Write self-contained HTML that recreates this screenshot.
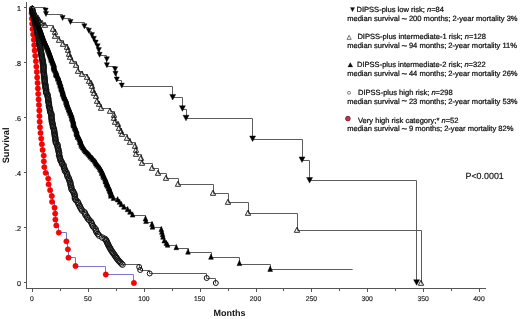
<!DOCTYPE html>
<html><head><meta charset="utf-8"><title>Survival</title>
<style>html,body{margin:0;padding:0;background:#fff;width:520px;height:319px;overflow:hidden}svg{display:block;will-change:transform;text-rendering:geometricPrecision}</style>
</head><body>
<svg width="520" height="319" viewBox="0 0 520 319">
<rect width="520" height="319" fill="#fff"/>
<g>
<g stroke="#555" stroke-width="1" fill="none" shape-rendering="crispEdges">
<path d="M26.5 2 V288.5 H486"/>
<path d="M23.5 282.5 H26.5"/>
<path d="M23.5 227.5 H26.5"/>
<path d="M23.5 172.5 H26.5"/>
<path d="M23.5 117.5 H26.5"/>
<path d="M23.5 62.5 H26.5"/>
<path d="M23.5 7.5 H26.5"/>
<path d="M32.5 289 V292.0"/>
<path d="M60.5 289 V291.0"/>
<path d="M88.5 289 V292.0"/>
<path d="M116.5 289 V291.0"/>
<path d="M144.5 289 V292.0"/>
<path d="M172.5 289 V291.0"/>
<path d="M200.5 289 V292.0"/>
<path d="M228.5 289 V291.0"/>
<path d="M256.5 289 V292.0"/>
<path d="M283.5 289 V291.0"/>
<path d="M311.5 289 V292.0"/>
<path d="M339.5 289 V291.0"/>
<path d="M367.5 289 V292.0"/>
<path d="M395.5 289 V291.0"/>
<path d="M423.5 289 V292.0"/>
<path d="M451.5 289 V291.0"/>
<path d="M479.5 289 V292.0"/>
</g>
<path fill="none" stroke="#7878d0" stroke-width="1" d="M32.00 7.50 H31.50 V13.50 H31.50 V18.50 H32.50 V23.50 H32.50 V29.50 H33.50 V34.50 H33.50 V39.50 H34.50 V45.50 H34.50 V50.50 H35.50 V55.50 H35.50 V61.50 H36.50 V66.50 H36.50 V72.50 H37.50 V77.50 H37.50 V82.50 H37.50 V88.50 H38.50 V93.50 H38.50 V99.50 H38.50 V104.50 H39.50 V110.50 H39.50 V116.50 H39.50 V121.50 H40.50 V127.50 H40.50 V132.50 H41.50 V138.50 H41.50 V144.50 H42.50 V149.50 H43.50 V155.50 H43.50 V161.50 H44.50 V167.50 H45.50 V172.50 H48.50 V178.50 H48.50 V184.50 H50.50 V190.50 H51.50 V196.50 H52.50 V201.50 H54.50 V207.50 H55.50 V213.50 H55.50 V219.50 H56.50 V225.50 H58.50 V232.50 H66.50 V241.50 H67.50 V249.50 H68.50 V257.50 H75.50 V266.50 H105.50 V274.50 H133.50 V283.50"/>
<g fill="#ff0000" stroke="#d80000" stroke-width="0.5">
<circle cx="31.61" cy="13.30" r="2.65"/>
<circle cx="31.84" cy="18.55" r="2.65"/>
<circle cx="32.17" cy="23.82" r="2.65"/>
<circle cx="32.54" cy="29.10" r="2.65"/>
<circle cx="33.17" cy="34.41" r="2.65"/>
<circle cx="33.86" cy="39.73" r="2.65"/>
<circle cx="34.25" cy="45.07" r="2.65"/>
<circle cx="34.65" cy="50.42" r="2.65"/>
<circle cx="35.30" cy="55.79" r="2.65"/>
<circle cx="35.91" cy="61.18" r="2.65"/>
<circle cx="36.39" cy="66.59" r="2.65"/>
<circle cx="36.84" cy="72.02" r="2.65"/>
<circle cx="37.22" cy="77.46" r="2.65"/>
<circle cx="37.58" cy="82.93" r="2.65"/>
<circle cx="37.90" cy="88.40" r="2.65"/>
<circle cx="38.23" cy="93.90" r="2.65"/>
<circle cx="38.57" cy="99.42" r="2.65"/>
<circle cx="38.95" cy="104.95" r="2.65"/>
<circle cx="39.32" cy="110.50" r="2.65"/>
<circle cx="39.48" cy="116.08" r="2.65"/>
<circle cx="39.70" cy="121.66" r="2.65"/>
<circle cx="40.04" cy="127.27" r="2.65"/>
<circle cx="40.55" cy="132.90" r="2.65"/>
<circle cx="41.22" cy="138.54" r="2.65"/>
<circle cx="41.90" cy="144.20" r="2.65"/>
<circle cx="42.59" cy="149.88" r="2.65"/>
<circle cx="43.71" cy="155.58" r="2.65"/>
<circle cx="43.82" cy="161.30" r="2.65"/>
<circle cx="44.31" cy="167.04" r="2.65"/>
<circle cx="45.69" cy="172.80" r="2.65"/>
<circle cx="48.23" cy="178.57" r="2.65"/>
<circle cx="48.59" cy="184.37" r="2.65"/>
<circle cx="50.14" cy="190.18" r="2.65"/>
<circle cx="51.80" cy="196.01" r="2.65"/>
<circle cx="52.06" cy="201.86" r="2.65"/>
<circle cx="54.56" cy="207.73" r="2.65"/>
<circle cx="55.20" cy="213.62" r="2.65"/>
<circle cx="55.39" cy="219.53" r="2.65"/>
<circle cx="56.31" cy="225.46" r="2.65"/>
<circle cx="58.80" cy="232.60" r="2.65"/>
<circle cx="66.40" cy="241.30" r="2.65"/>
<circle cx="67.90" cy="249.30" r="2.65"/>
<circle cx="68.50" cy="257.70" r="2.65"/>
<circle cx="75.50" cy="266.00" r="2.65"/>
<circle cx="105.80" cy="274.50" r="2.65"/>
<circle cx="133.90" cy="283.00" r="2.65"/>
</g>
<path fill="none" stroke="#5c5c5c" stroke-width="1" d="M32.00 7.50 H32.50 V8.50 H32.50 V9.50 H32.50 V10.50 H32.50 V11.50 H32.50 V12.50 H33.50 V13.50 H33.50 V14.50 H33.50 V15.50 H33.50 V16.50 H34.50 V18.50 H34.50 V19.50 H34.50 V20.50 H34.50 V21.50 H35.50 V22.50 H35.50 V23.50 H35.50 V24.50 H35.50 V25.50 H36.50 V26.50 H36.50 V27.50 H36.50 V28.50 H36.50 V29.50 H37.50 V30.50 H37.50 V31.50 H37.50 V32.50 H37.50 V33.50 H37.50 V34.50 H38.50 V35.50 H38.50 V36.50 H38.50 V37.50 H38.50 V39.50 H38.50 V40.50 H39.50 V41.50 H39.50 V42.50 H39.50 V43.50 H39.50 V44.50 H39.50 V45.50 H40.50 V46.50 H40.50 V47.50 H40.50 V48.50 H40.50 V49.50 H40.50 V51.50 H40.50 V52.50 H41.50 V53.50 H41.50 V54.50 H41.50 V55.50 H41.50 V56.50 H42.50 V57.50 H42.50 V58.50 H42.50 V60.50 H42.50 V61.50 H42.50 V62.50 H42.50 V63.50 H43.50 V64.50 H43.50 V65.50 H43.50 V66.50 H43.50 V68.50 H43.50 V69.50 H43.50 V70.50 H43.50 V71.50 H43.50 V72.50 H44.50 V73.50 H44.50 V75.50 H44.50 V76.50 H44.50 V77.50 H44.50 V78.50 H44.50 V79.50 H44.50 V80.50 H44.50 V82.50 H44.50 V83.50 H45.50 V84.50 H45.50 V85.50 H45.50 V86.50 H45.50 V88.50 H46.50 V89.50 H46.50 V90.50 H46.50 V91.50 H46.50 V93.50 H47.50 V94.50 H47.50 V95.50 H47.50 V96.50 H48.50 V97.50 H48.50 V99.50 H48.50 V100.50 H48.50 V101.50 H48.50 V102.50 H48.50 V104.50 H48.50 V105.50 H49.50 V106.50 H49.50 V107.50 H49.50 V109.50 H49.50 V110.50 H50.50 V111.50 H50.50 V112.50 H51.50 V114.50 H51.50 V115.50 H51.50 V116.50 H51.50 V118.50 H51.50 V119.50 H51.50 V120.50 H51.50 V121.50 H52.50 V123.50 H52.50 V124.50 H52.50 V125.50 H53.50 V127.50 H53.50 V128.50 H54.50 V129.50 H54.50 V131.50 H54.50 V132.50 H54.50 V133.50 H54.50 V135.50 H54.50 V136.50 H55.50 V137.50 H55.50 V139.50 H55.50 V140.50 H55.50 V141.50 H56.50 V143.50 H57.50 V144.50 H57.50 V145.50 H57.50 V147.50 H58.50 V148.50 H58.50 V149.50 H58.50 V151.50 H59.50 V152.50 H59.50 V154.50 H59.50 V155.50 H59.50 V156.50 H60.50 V158.50 H60.50 V159.50 H60.50 V160.50 H61.50 V162.50 H62.50 V163.50 H63.50 V165.50 H63.50 V166.50 H64.50 V168.50 H64.50 V169.50 H64.50 V170.50 H66.50 V172.50 H66.50 V173.50 H67.50 V175.50 H67.50 V176.50 H68.50 V178.50 H69.50 V179.50 H69.50 V180.50 H70.50 V182.50 H70.50 V183.50 H70.50 V185.50 H71.50 V186.50 H71.50 V188.50 H71.50 V189.50 H73.50 V191.50 H73.50 V192.50 H74.50 V194.50 H74.50 V195.50 H74.50 V197.50 H74.50 V198.50 H75.50 V200.50 H77.50 V201.50 H78.50 V203.50 H78.50 V204.50 H79.50 V206.50 H80.50 V207.50 H81.50 V209.50 H82.50 V210.50 H84.50 V212.50 H85.50 V213.50 H85.50 V215.50 H87.50 V216.50 H87.50 V218.50 H89.50 V219.50 H90.50 V221.50 H91.50 V223.50 H92.50 V224.50 H92.50 V226.50 H94.50 V227.50 H95.50 V229.50 H96.50 V230.50 H96.50 V232.50 H97.50 V234.50 H99.50 V235.50 H102.50 V237.50 H104.50 V238.50 H106.50 V240.50 H106.50 V241.50 H107.50 V242.50 H107.50 V244.50 H108.50 V245.50 H109.50 V246.50 H109.50 V247.50 H110.50 V249.50 H111.50 V250.50 H112.50 V251.50 H113.50 V253.50 H114.50 V254.50 H114.50 V255.50 H115.50 V257.50 H116.50 V258.50 H117.50 V259.50 H118.50 V260.50 H120.50 V262.50 H121.50 V263.50 H122.50 V264.50 H139.50 V267.50 H140.50 V270.50 H149.50 V273.50 H206.50 V278.50 H215.50 V283.50"/>
<g fill="none" stroke="#111" stroke-width="1">
<circle cx="32.13" cy="8.90" r="2.80"/>
<circle cx="32.29" cy="9.90" r="2.80"/>
<circle cx="32.44" cy="10.91" r="2.80"/>
<circle cx="32.59" cy="11.91" r="2.80"/>
<circle cx="32.83" cy="12.93" r="2.80"/>
<circle cx="33.08" cy="13.94" r="2.80"/>
<circle cx="33.34" cy="14.95" r="2.80"/>
<circle cx="33.59" cy="15.97" r="2.80"/>
<circle cx="33.85" cy="16.99" r="2.80"/>
<circle cx="34.10" cy="18.02" r="2.80"/>
<circle cx="34.36" cy="19.04" r="2.80"/>
<circle cx="34.62" cy="20.07" r="2.80"/>
<circle cx="34.86" cy="21.10" r="2.80"/>
<circle cx="35.11" cy="22.14" r="2.80"/>
<circle cx="35.36" cy="23.17" r="2.80"/>
<circle cx="35.61" cy="24.21" r="2.80"/>
<circle cx="35.86" cy="25.26" r="2.80"/>
<circle cx="36.11" cy="26.30" r="2.80"/>
<circle cx="36.36" cy="27.35" r="2.80"/>
<circle cx="36.62" cy="28.40" r="2.80"/>
<circle cx="36.87" cy="29.45" r="2.80"/>
<circle cx="37.09" cy="30.51" r="2.80"/>
<circle cx="37.28" cy="31.57" r="2.80"/>
<circle cx="37.47" cy="32.63" r="2.80"/>
<circle cx="37.66" cy="33.69" r="2.80"/>
<circle cx="37.86" cy="34.76" r="2.80"/>
<circle cx="38.05" cy="35.83" r="2.80"/>
<circle cx="38.24" cy="36.90" r="2.80"/>
<circle cx="38.44" cy="37.98" r="2.80"/>
<circle cx="38.63" cy="39.06" r="2.80"/>
<circle cx="38.82" cy="40.14" r="2.80"/>
<circle cx="39.02" cy="41.22" r="2.80"/>
<circle cx="39.22" cy="42.31" r="2.80"/>
<circle cx="39.41" cy="43.40" r="2.80"/>
<circle cx="39.61" cy="44.49" r="2.80"/>
<circle cx="39.81" cy="45.58" r="2.80"/>
<circle cx="40.00" cy="46.68" r="2.80"/>
<circle cx="40.20" cy="47.78" r="2.80"/>
<circle cx="40.40" cy="48.89" r="2.80"/>
<circle cx="40.60" cy="49.99" r="2.80"/>
<circle cx="40.80" cy="51.10" r="2.80"/>
<circle cx="41.00" cy="52.21" r="2.80"/>
<circle cx="41.20" cy="53.33" r="2.80"/>
<circle cx="41.40" cy="54.45" r="2.80"/>
<circle cx="41.60" cy="55.57" r="2.80"/>
<circle cx="41.80" cy="56.69" r="2.80"/>
<circle cx="42.01" cy="57.82" r="2.80"/>
<circle cx="42.21" cy="58.95" r="2.80"/>
<circle cx="42.48" cy="60.08" r="2.80"/>
<circle cx="42.80" cy="61.22" r="2.80"/>
<circle cx="42.80" cy="62.36" r="2.80"/>
<circle cx="42.80" cy="63.50" r="2.80"/>
<circle cx="43.37" cy="64.65" r="2.80"/>
<circle cx="43.48" cy="65.79" r="2.80"/>
<circle cx="43.48" cy="66.94" r="2.80"/>
<circle cx="43.48" cy="68.10" r="2.80"/>
<circle cx="43.48" cy="69.25" r="2.80"/>
<circle cx="43.48" cy="70.41" r="2.80"/>
<circle cx="43.48" cy="71.58" r="2.80"/>
<circle cx="43.60" cy="72.74" r="2.80"/>
<circle cx="44.02" cy="73.91" r="2.80"/>
<circle cx="44.02" cy="75.08" r="2.80"/>
<circle cx="44.36" cy="76.26" r="2.80"/>
<circle cx="44.39" cy="77.44" r="2.80"/>
<circle cx="44.39" cy="78.62" r="2.80"/>
<circle cx="44.66" cy="79.80" r="2.80"/>
<circle cx="44.66" cy="80.99" r="2.80"/>
<circle cx="44.74" cy="82.18" r="2.80"/>
<circle cx="44.74" cy="83.37" r="2.80"/>
<circle cx="45.42" cy="84.57" r="2.80"/>
<circle cx="45.42" cy="85.77" r="2.80"/>
<circle cx="45.42" cy="86.97" r="2.80"/>
<circle cx="45.64" cy="88.18" r="2.80"/>
<circle cx="46.12" cy="89.39" r="2.80"/>
<circle cx="46.12" cy="90.60" r="2.80"/>
<circle cx="46.12" cy="91.82" r="2.80"/>
<circle cx="46.31" cy="93.03" r="2.80"/>
<circle cx="47.35" cy="94.26" r="2.80"/>
<circle cx="47.67" cy="95.48" r="2.80"/>
<circle cx="47.67" cy="96.71" r="2.80"/>
<circle cx="48.11" cy="97.94" r="2.80"/>
<circle cx="48.30" cy="99.18" r="2.80"/>
<circle cx="48.30" cy="100.41" r="2.80"/>
<circle cx="48.30" cy="101.65" r="2.80"/>
<circle cx="48.85" cy="102.90" r="2.80"/>
<circle cx="48.99" cy="104.15" r="2.80"/>
<circle cx="48.99" cy="105.40" r="2.80"/>
<circle cx="49.08" cy="106.65" r="2.80"/>
<circle cx="49.61" cy="107.91" r="2.80"/>
<circle cx="49.97" cy="109.17" r="2.80"/>
<circle cx="49.97" cy="110.43" r="2.80"/>
<circle cx="50.21" cy="111.70" r="2.80"/>
<circle cx="50.68" cy="112.97" r="2.80"/>
<circle cx="51.47" cy="114.24" r="2.80"/>
<circle cx="51.47" cy="115.52" r="2.80"/>
<circle cx="51.47" cy="116.80" r="2.80"/>
<circle cx="51.47" cy="118.09" r="2.80"/>
<circle cx="51.82" cy="119.37" r="2.80"/>
<circle cx="51.82" cy="120.66" r="2.80"/>
<circle cx="51.91" cy="121.96" r="2.80"/>
<circle cx="52.57" cy="123.25" r="2.80"/>
<circle cx="52.57" cy="124.56" r="2.80"/>
<circle cx="52.97" cy="125.86" r="2.80"/>
<circle cx="53.03" cy="127.17" r="2.80"/>
<circle cx="53.73" cy="128.48" r="2.80"/>
<circle cx="54.01" cy="129.79" r="2.80"/>
<circle cx="54.18" cy="131.11" r="2.80"/>
<circle cx="54.43" cy="132.43" r="2.80"/>
<circle cx="54.43" cy="133.76" r="2.80"/>
<circle cx="54.90" cy="135.08" r="2.80"/>
<circle cx="54.90" cy="136.41" r="2.80"/>
<circle cx="55.27" cy="137.75" r="2.80"/>
<circle cx="55.27" cy="139.09" r="2.80"/>
<circle cx="55.64" cy="140.43" r="2.80"/>
<circle cx="55.64" cy="141.78" r="2.80"/>
<circle cx="56.05" cy="143.12" r="2.80"/>
<circle cx="57.42" cy="144.48" r="2.80"/>
<circle cx="57.42" cy="145.83" r="2.80"/>
<circle cx="57.74" cy="147.19" r="2.80"/>
<circle cx="58.04" cy="148.56" r="2.80"/>
<circle cx="58.49" cy="149.92" r="2.80"/>
<circle cx="58.53" cy="151.29" r="2.80"/>
<circle cx="59.08" cy="152.67" r="2.80"/>
<circle cx="59.08" cy="154.04" r="2.80"/>
<circle cx="59.12" cy="155.43" r="2.80"/>
<circle cx="59.69" cy="156.81" r="2.80"/>
<circle cx="60.01" cy="158.20" r="2.80"/>
<circle cx="60.33" cy="159.59" r="2.80"/>
<circle cx="60.86" cy="160.99" r="2.80"/>
<circle cx="61.98" cy="162.38" r="2.80"/>
<circle cx="62.00" cy="163.79" r="2.80"/>
<circle cx="63.61" cy="165.19" r="2.80"/>
<circle cx="63.76" cy="166.60" r="2.80"/>
<circle cx="64.10" cy="168.02" r="2.80"/>
<circle cx="64.88" cy="169.43" r="2.80"/>
<circle cx="64.88" cy="170.86" r="2.80"/>
<circle cx="66.36" cy="172.28" r="2.80"/>
<circle cx="66.83" cy="173.71" r="2.80"/>
<circle cx="67.28" cy="175.14" r="2.80"/>
<circle cx="67.53" cy="176.58" r="2.80"/>
<circle cx="68.65" cy="178.02" r="2.80"/>
<circle cx="69.12" cy="179.46" r="2.80"/>
<circle cx="69.52" cy="180.91" r="2.80"/>
<circle cx="70.36" cy="182.36" r="2.80"/>
<circle cx="70.45" cy="183.81" r="2.80"/>
<circle cx="70.55" cy="185.27" r="2.80"/>
<circle cx="71.30" cy="186.74" r="2.80"/>
<circle cx="71.30" cy="188.20" r="2.80"/>
<circle cx="71.76" cy="189.67" r="2.80"/>
<circle cx="73.03" cy="191.15" r="2.80"/>
<circle cx="73.64" cy="192.62" r="2.80"/>
<circle cx="74.44" cy="194.10" r="2.80"/>
<circle cx="74.80" cy="195.59" r="2.80"/>
<circle cx="74.91" cy="197.08" r="2.80"/>
<circle cx="74.91" cy="198.57" r="2.80"/>
<circle cx="75.93" cy="200.07" r="2.80"/>
<circle cx="77.50" cy="201.57" r="2.80"/>
<circle cx="78.27" cy="203.08" r="2.80"/>
<circle cx="78.81" cy="204.58" r="2.80"/>
<circle cx="79.74" cy="206.10" r="2.80"/>
<circle cx="80.38" cy="207.61" r="2.80"/>
<circle cx="81.29" cy="209.14" r="2.80"/>
<circle cx="82.18" cy="210.66" r="2.80"/>
<circle cx="84.43" cy="212.19" r="2.80"/>
<circle cx="85.18" cy="213.72" r="2.80"/>
<circle cx="85.59" cy="215.26" r="2.80"/>
<circle cx="87.07" cy="216.80" r="2.80"/>
<circle cx="87.68" cy="218.34" r="2.80"/>
<circle cx="89.02" cy="219.89" r="2.80"/>
<circle cx="90.69" cy="221.44" r="2.80"/>
<circle cx="91.51" cy="223.00" r="2.80"/>
<circle cx="92.21" cy="224.56" r="2.80"/>
<circle cx="92.86" cy="226.13" r="2.80"/>
<circle cx="94.33" cy="227.70" r="2.80"/>
<circle cx="95.70" cy="229.27" r="2.80"/>
<circle cx="96.04" cy="230.85" r="2.80"/>
<circle cx="96.72" cy="232.43" r="2.80"/>
<circle cx="97.89" cy="234.01" r="2.80"/>
<circle cx="99.12" cy="235.60" r="2.80"/>
<circle cx="102.20" cy="237.50" r="2.80"/>
<circle cx="104.80" cy="238.80" r="2.80"/>
<circle cx="106.05" cy="240.10" r="2.80"/>
<circle cx="106.64" cy="241.40" r="2.80"/>
<circle cx="107.24" cy="242.70" r="2.80"/>
<circle cx="107.84" cy="244.00" r="2.80"/>
<circle cx="108.46" cy="245.30" r="2.80"/>
<circle cx="109.16" cy="246.60" r="2.80"/>
<circle cx="109.87" cy="247.90" r="2.80"/>
<circle cx="110.57" cy="249.20" r="2.80"/>
<circle cx="111.35" cy="250.50" r="2.80"/>
<circle cx="112.26" cy="251.80" r="2.80"/>
<circle cx="113.17" cy="253.10" r="2.80"/>
<circle cx="114.08" cy="254.40" r="2.80"/>
<circle cx="114.99" cy="255.70" r="2.80"/>
<circle cx="115.90" cy="257.00" r="2.80"/>
<circle cx="116.81" cy="258.30" r="2.80"/>
<circle cx="117.72" cy="259.60" r="2.80"/>
<circle cx="118.86" cy="260.90" r="2.80"/>
<circle cx="120.10" cy="262.20" r="2.80"/>
<circle cx="121.34" cy="263.50" r="2.80"/>
<circle cx="122.50" cy="264.60" r="2.80"/>
<circle cx="139.20" cy="267.00" r="2.50"/>
<circle cx="140.20" cy="270.00" r="2.50"/>
<circle cx="149.70" cy="273.50" r="2.50"/>
<circle cx="206.70" cy="278.00" r="2.50"/>
<circle cx="215.80" cy="283.00" r="2.50"/>
</g>
<path fill="none" stroke="#5c5c5c" stroke-width="1" d="M32.00 7.50 H32.50 V8.50 H32.50 V9.50 H33.50 V10.50 H33.50 V11.50 H33.50 V12.50 H34.50 V13.50 H34.50 V14.50 H34.50 V15.50 H35.50 V16.50 H35.50 V17.50 H35.50 V18.50 H36.50 V19.50 H36.50 V20.50 H37.50 V21.50 H37.50 V22.50 H37.50 V23.50 H38.50 V24.50 H38.50 V25.50 H38.50 V26.50 H39.50 V27.50 H39.50 V28.50 H39.50 V29.50 H40.50 V30.50 H40.50 V31.50 H40.50 V32.50 H41.50 V33.50 H41.50 V34.50 H41.50 V35.50 H42.50 V36.50 H42.50 V37.50 H43.50 V38.50 H43.50 V39.50 H43.50 V40.50 H44.50 V41.50 H44.50 V42.50 H45.50 V43.50 H45.50 V44.50 H46.50 V45.50 H46.50 V46.50 H47.50 V47.50 H47.50 V49.50 H48.50 V50.50 H48.50 V51.50 H48.50 V52.50 H49.50 V53.50 H49.50 V54.50 H49.50 V55.50 H50.50 V56.50 H50.50 V57.50 H51.50 V58.50 H51.50 V59.50 H51.50 V60.50 H52.50 V61.50 H52.50 V62.50 H53.50 V64.50 H53.50 V65.50 H53.50 V66.50 H53.50 V67.50 H53.50 V68.50 H54.50 V69.50 H54.50 V70.50 H55.50 V71.50 H56.50 V72.50 H56.50 V74.50 H56.50 V75.50 H56.50 V76.50 H58.50 V77.50 H58.50 V78.50 H58.50 V79.50 H59.50 V80.50 H59.50 V81.50 H59.50 V83.50 H60.50 V84.50 H60.50 V85.50 H60.50 V86.50 H61.50 V87.50 H61.50 V88.50 H61.50 V90.50 H62.50 V91.50 H62.50 V92.50 H62.50 V93.50 H62.50 V94.50 H63.50 V95.50 H63.50 V97.50 H64.50 V98.50 H64.50 V99.50 H65.50 V100.50 H66.50 V101.50 H66.50 V103.50 H66.50 V104.50 H66.50 V105.50 H67.50 V106.50 H67.50 V107.50 H68.50 V109.50 H68.50 V110.50 H69.50 V111.50 H70.50 V112.50 H70.50 V113.50 H71.50 V115.50 H71.50 V116.50 H72.50 V117.50 H72.50 V118.50 H72.50 V120.50 H73.50 V121.50 H73.50 V122.50 H73.50 V123.50 H73.50 V125.50 H73.50 V126.50 H74.50 V127.50 H75.50 V128.50 H75.50 V130.50 H76.50 V131.50 H76.50 V132.50 H76.50 V134.50 H77.50 V135.50 H77.50 V136.50 H77.50 V137.50 H79.50 V139.50 H79.50 V140.50 H80.50 V141.50 H80.50 V143.50 H81.50 V144.50 H81.50 V145.50 H82.50 V147.50 H83.50 V148.50 H84.50 V149.50 H84.50 V150.50 H85.50 V152.50 H87.50 V153.50 H88.50 V154.50 H89.50 V156.50 H90.50 V157.50 H92.50 V158.50 H93.50 V160.50 H94.50 V161.50 H95.50 V163.50 H96.50 V164.50 H97.50 V165.50 H98.50 V167.50 H99.50 V168.50 H100.50 V169.50 H101.50 V171.50 H102.50 V172.50 H102.50 V173.50 H103.50 V175.50 H103.50 V176.50 H104.50 V178.50 H105.50 V179.50 H105.50 V180.50 H105.50 V182.50 H106.50 V183.50 H106.50 V185.50 H107.50 V186.50 H108.50 V188.50 H108.50 V189.50 H109.50 V190.50 H110.50 V192.50 H110.50 V193.50 H111.50 V195.50 H111.50 V196.50 H113.50 V198.50 H117.50 V200.50 H119.50 V202.50 H121.50 V205.50 H124.50 V207.50 H127.50 V210.50 H130.50 V212.50 H132.50 V215.50 H145.50 V219.50 H146.50 V222.50 H152.50 V225.50 H152.50 V227.50 H161.50 V230.50 H161.50 V232.50 H162.50 V235.50 H163.50 V237.50 H164.50 V241.50 H166.50 V243.50 H167.50 V245.50 H176.50 V248.50 H188.50 V252.50 H211.50 V257.50 H239.50 V264.50 H270.50 V269.50 H352.60"/>
<g fill="#000" stroke="#000" stroke-width="0.5">
<path d="M32.34 5.20 L29.64 10.50 L35.04 10.50 Z"/>
<path d="M32.69 6.15 L29.99 11.45 L35.39 11.45 Z"/>
<path d="M33.05 7.11 L30.35 12.41 L35.75 12.41 Z"/>
<path d="M33.41 8.06 L30.71 13.36 L36.11 13.36 Z"/>
<path d="M33.77 9.02 L31.07 14.32 L36.47 14.32 Z"/>
<path d="M34.13 9.99 L31.43 15.29 L36.83 15.29 Z"/>
<path d="M34.49 10.95 L31.79 16.25 L37.19 16.25 Z"/>
<path d="M34.86 11.92 L32.16 17.22 L37.56 17.22 Z"/>
<path d="M35.22 12.89 L32.52 18.19 L37.92 18.19 Z"/>
<path d="M35.59 13.86 L32.89 19.16 L38.29 19.16 Z"/>
<path d="M35.95 14.84 L33.25 20.14 L38.65 20.14 Z"/>
<path d="M36.32 15.81 L33.62 21.11 L39.02 21.11 Z"/>
<path d="M36.67 16.80 L33.97 22.10 L39.37 22.10 Z"/>
<path d="M37.02 17.78 L34.32 23.08 L39.72 23.08 Z"/>
<path d="M37.36 18.76 L34.66 24.06 L40.06 24.06 Z"/>
<path d="M37.71 19.75 L35.01 25.05 L40.41 25.05 Z"/>
<path d="M38.05 20.74 L35.35 26.04 L40.75 26.04 Z"/>
<path d="M38.40 21.74 L35.70 27.04 L41.10 27.04 Z"/>
<path d="M38.75 22.73 L36.05 28.03 L41.45 28.03 Z"/>
<path d="M39.10 23.73 L36.40 29.03 L41.80 29.03 Z"/>
<path d="M39.45 24.73 L36.75 30.03 L42.15 30.03 Z"/>
<path d="M39.80 25.73 L37.10 31.03 L42.50 31.03 Z"/>
<path d="M40.15 26.74 L37.45 32.04 L42.85 32.04 Z"/>
<path d="M40.51 27.75 L37.81 33.05 L43.21 33.05 Z"/>
<path d="M40.86 28.76 L38.16 34.06 L43.56 34.06 Z"/>
<path d="M41.22 29.78 L38.52 35.08 L43.92 35.08 Z"/>
<path d="M41.57 30.79 L38.87 36.09 L44.27 36.09 Z"/>
<path d="M41.93 31.81 L39.23 37.11 L44.63 37.11 Z"/>
<path d="M42.29 32.84 L39.59 38.14 L44.99 38.14 Z"/>
<path d="M42.65 33.86 L39.95 39.16 L45.35 39.16 Z"/>
<path d="M43.01 34.89 L40.31 40.19 L45.71 40.19 Z"/>
<path d="M43.37 35.92 L40.67 41.22 L46.07 41.22 Z"/>
<path d="M43.79 36.95 L41.09 42.25 L46.49 42.25 Z"/>
<path d="M44.26 37.99 L41.56 43.29 L46.96 43.29 Z"/>
<path d="M44.73 39.03 L42.03 44.33 L47.43 44.33 Z"/>
<path d="M45.20 40.07 L42.50 45.37 L47.90 45.37 Z"/>
<path d="M45.67 41.11 L42.97 46.41 L48.37 46.41 Z"/>
<path d="M46.14 42.16 L43.44 47.46 L48.84 47.46 Z"/>
<path d="M46.61 43.21 L43.91 48.51 L49.31 48.51 Z"/>
<path d="M47.08 44.26 L44.38 49.56 L49.78 49.56 Z"/>
<path d="M47.56 45.32 L44.86 50.62 L50.26 50.62 Z"/>
<path d="M48.03 46.37 L45.33 51.67 L50.73 51.67 Z"/>
<path d="M48.41 47.44 L45.71 52.74 L51.11 52.74 Z"/>
<path d="M48.79 48.50 L46.09 53.80 L51.49 53.80 Z"/>
<path d="M49.18 49.56 L46.48 54.86 L51.88 54.86 Z"/>
<path d="M49.56 50.63 L46.86 55.93 L52.26 55.93 Z"/>
<path d="M49.95 51.71 L47.25 57.01 L52.65 57.01 Z"/>
<path d="M50.33 52.78 L47.63 58.08 L53.03 58.08 Z"/>
<path d="M50.72 53.86 L48.02 59.16 L53.42 59.16 Z"/>
<path d="M51.11 54.94 L48.41 60.24 L53.81 60.24 Z"/>
<path d="M51.50 56.02 L48.80 61.32 L54.20 61.32 Z"/>
<path d="M51.50 57.11 L48.80 62.41 L54.20 62.41 Z"/>
<path d="M52.56 58.20 L49.86 63.50 L55.26 63.50 Z"/>
<path d="M52.56 59.29 L49.86 64.59 L55.26 64.59 Z"/>
<path d="M53.14 60.38 L50.44 65.68 L55.84 65.68 Z"/>
<path d="M53.82 61.48 L51.12 66.78 L56.52 66.78 Z"/>
<path d="M53.82 62.58 L51.12 67.88 L56.52 67.88 Z"/>
<path d="M53.82 63.68 L51.12 68.98 L56.52 68.98 Z"/>
<path d="M53.82 64.79 L51.12 70.09 L56.52 70.09 Z"/>
<path d="M54.16 65.90 L51.46 71.20 L56.86 71.20 Z"/>
<path d="M54.87 67.01 L52.17 72.31 L57.57 72.31 Z"/>
<path d="M55.55 68.13 L52.85 73.43 L58.25 73.43 Z"/>
<path d="M56.14 69.25 L53.44 74.55 L58.84 74.55 Z"/>
<path d="M56.14 70.37 L53.44 75.67 L58.84 75.67 Z"/>
<path d="M56.14 71.49 L53.44 76.79 L58.84 76.79 Z"/>
<path d="M56.70 72.62 L54.00 77.92 L59.40 77.92 Z"/>
<path d="M58.00 73.75 L55.30 79.05 L60.70 79.05 Z"/>
<path d="M58.00 74.88 L55.30 80.18 L60.70 80.18 Z"/>
<path d="M58.22 76.02 L55.52 81.32 L60.92 81.32 Z"/>
<path d="M59.27 77.15 L56.57 82.45 L61.97 82.45 Z"/>
<path d="M59.27 78.30 L56.57 83.60 L61.97 83.60 Z"/>
<path d="M59.51 79.44 L56.81 84.74 L62.21 84.74 Z"/>
<path d="M60.36 80.59 L57.66 85.89 L63.06 85.89 Z"/>
<path d="M60.36 81.74 L57.66 87.04 L63.06 87.04 Z"/>
<path d="M60.51 82.89 L57.81 88.19 L63.21 88.19 Z"/>
<path d="M61.38 84.05 L58.68 89.35 L64.08 89.35 Z"/>
<path d="M61.38 85.21 L58.68 90.51 L64.08 90.51 Z"/>
<path d="M61.56 86.37 L58.86 91.67 L64.26 91.67 Z"/>
<path d="M62.31 87.54 L59.61 92.84 L65.01 92.84 Z"/>
<path d="M62.63 88.71 L59.93 94.01 L65.33 94.01 Z"/>
<path d="M62.78 89.88 L60.08 95.18 L65.48 95.18 Z"/>
<path d="M62.85 91.05 L60.15 96.35 L65.55 96.35 Z"/>
<path d="M63.68 92.23 L60.98 97.53 L66.38 97.53 Z"/>
<path d="M63.95 93.41 L61.25 98.71 L66.65 98.71 Z"/>
<path d="M64.54 94.60 L61.84 99.90 L67.24 99.90 Z"/>
<path d="M64.82 95.79 L62.12 101.09 L67.52 101.09 Z"/>
<path d="M65.93 96.98 L63.23 102.28 L68.63 102.28 Z"/>
<path d="M66.29 98.17 L63.59 103.47 L68.99 103.47 Z"/>
<path d="M66.29 99.37 L63.59 104.67 L68.99 104.67 Z"/>
<path d="M66.92 100.57 L64.22 105.87 L69.62 105.87 Z"/>
<path d="M66.97 101.77 L64.27 107.07 L69.67 107.07 Z"/>
<path d="M67.67 102.98 L64.97 108.28 L70.37 108.28 Z"/>
<path d="M67.99 104.19 L65.29 109.49 L70.69 109.49 Z"/>
<path d="M68.88 105.40 L66.18 110.70 L71.58 110.70 Z"/>
<path d="M68.93 106.62 L66.23 111.92 L71.63 111.92 Z"/>
<path d="M69.48 107.84 L66.78 113.14 L72.18 113.14 Z"/>
<path d="M70.27 109.06 L67.57 114.36 L72.97 114.36 Z"/>
<path d="M70.27 110.28 L67.57 115.58 L72.97 115.58 Z"/>
<path d="M71.39 111.51 L68.69 116.81 L74.09 116.81 Z"/>
<path d="M71.39 112.75 L68.69 118.05 L74.09 118.05 Z"/>
<path d="M72.03 113.98 L69.33 119.28 L74.73 119.28 Z"/>
<path d="M72.03 115.22 L69.33 120.52 L74.73 120.52 Z"/>
<path d="M72.44 116.46 L69.74 121.76 L75.14 121.76 Z"/>
<path d="M73.08 117.71 L70.38 123.01 L75.78 123.01 Z"/>
<path d="M73.28 118.95 L70.58 124.25 L75.98 124.25 Z"/>
<path d="M73.47 120.21 L70.77 125.51 L76.17 125.51 Z"/>
<path d="M73.47 121.46 L70.77 126.76 L76.17 126.76 Z"/>
<path d="M73.73 122.72 L71.03 128.02 L76.43 128.02 Z"/>
<path d="M74.94 123.98 L72.24 129.28 L77.64 129.28 Z"/>
<path d="M75.04 125.25 L72.34 130.55 L77.74 130.55 Z"/>
<path d="M75.65 126.51 L72.95 131.81 L78.35 131.81 Z"/>
<path d="M76.49 127.79 L73.79 133.09 L79.19 133.09 Z"/>
<path d="M76.58 129.06 L73.88 134.36 L79.28 134.36 Z"/>
<path d="M76.58 130.34 L73.88 135.64 L79.28 135.64 Z"/>
<path d="M77.00 131.62 L74.30 136.92 L79.70 136.92 Z"/>
<path d="M77.87 132.91 L75.17 138.21 L80.57 138.21 Z"/>
<path d="M77.87 134.19 L75.17 139.49 L80.57 139.49 Z"/>
<path d="M79.35 135.49 L76.65 140.79 L82.05 140.79 Z"/>
<path d="M79.84 136.78 L77.14 142.08 L82.54 142.08 Z"/>
<path d="M80.27 138.08 L77.57 143.38 L82.97 143.38 Z"/>
<path d="M80.32 139.38 L77.62 144.68 L83.02 144.68 Z"/>
<path d="M81.41 140.69 L78.71 145.99 L84.11 145.99 Z"/>
<path d="M81.41 142.00 L78.71 147.30 L84.11 147.30 Z"/>
<path d="M82.06 143.31 L79.36 148.61 L84.76 148.61 Z"/>
<path d="M83.01 144.63 L80.31 149.93 L85.71 149.93 Z"/>
<path d="M84.14 145.94 L81.44 151.24 L86.84 151.24 Z"/>
<path d="M84.95 147.27 L82.25 152.57 L87.65 152.57 Z"/>
<path d="M85.79 148.59 L83.09 153.89 L88.49 153.89 Z"/>
<path d="M87.40 149.92 L84.70 155.22 L90.10 155.22 Z"/>
<path d="M88.71 151.26 L86.01 156.56 L91.41 156.56 Z"/>
<path d="M89.81 152.59 L87.11 157.89 L92.51 157.89 Z"/>
<path d="M90.74 153.93 L88.04 159.23 L93.44 159.23 Z"/>
<path d="M92.22 155.28 L89.52 160.58 L94.92 160.58 Z"/>
<path d="M93.35 156.62 L90.65 161.92 L96.05 161.92 Z"/>
<path d="M94.76 157.98 L92.06 163.28 L97.46 163.28 Z"/>
<path d="M95.74 159.33 L93.04 164.63 L98.44 164.63 Z"/>
<path d="M96.30 160.69 L93.60 165.99 L99.00 165.99 Z"/>
<path d="M97.17 162.05 L94.47 167.35 L99.87 167.35 Z"/>
<path d="M98.57 163.41 L95.87 168.71 L101.27 168.71 Z"/>
<path d="M99.68 164.78 L96.98 170.08 L102.38 170.08 Z"/>
<path d="M100.34 166.16 L97.64 171.46 L103.04 171.46 Z"/>
<path d="M101.21 167.53 L98.51 172.83 L103.91 172.83 Z"/>
<path d="M102.07 168.91 L99.37 174.21 L104.77 174.21 Z"/>
<path d="M102.07 170.29 L99.37 175.59 L104.77 175.59 Z"/>
<path d="M103.31 171.68 L100.61 176.98 L106.01 176.98 Z"/>
<path d="M103.31 173.07 L100.61 178.37 L106.01 178.37 Z"/>
<path d="M104.09 174.47 L101.39 179.77 L106.79 179.77 Z"/>
<path d="M105.21 175.86 L102.51 181.16 L107.91 181.16 Z"/>
<path d="M105.72 177.26 L103.02 182.56 L108.42 182.56 Z"/>
<path d="M105.72 178.67 L103.02 183.97 L108.42 183.97 Z"/>
<path d="M106.85 180.08 L104.15 185.38 L109.55 185.38 Z"/>
<path d="M106.85 181.49 L104.15 186.79 L109.55 186.79 Z"/>
<path d="M107.64 182.91 L104.94 188.21 L110.34 188.21 Z"/>
<path d="M108.89 184.33 L106.19 189.63 L111.59 189.63 Z"/>
<path d="M108.96 185.75 L106.26 191.05 L111.66 191.05 Z"/>
<path d="M109.69 187.18 L106.99 192.48 L112.39 192.48 Z"/>
<path d="M110.29 188.61 L107.59 193.91 L112.99 193.91 Z"/>
<path d="M110.83 190.05 L108.13 195.35 L113.53 195.35 Z"/>
<path d="M111.17 191.48 L108.47 196.78 L113.87 196.78 Z"/>
<path d="M111.17 192.93 L108.47 198.23 L113.87 198.23 Z"/>
<path d="M113.50 195.10 L111.15 200.40 L115.85 200.40 Z"/>
<path d="M117.60 196.60 L115.25 201.90 L119.95 201.90 Z"/>
<path d="M119.50 199.00 L117.15 204.30 L121.85 204.30 Z"/>
<path d="M121.30 201.40 L118.95 206.70 L123.65 206.70 Z"/>
<path d="M124.00 203.90 L121.65 209.20 L126.35 209.20 Z"/>
<path d="M127.60 206.40 L125.25 211.70 L129.95 211.70 Z"/>
<path d="M130.00 208.90 L127.65 214.20 L132.35 214.20 Z"/>
<path d="M132.60 211.80 L130.25 217.10 L134.95 217.10 Z"/>
<path d="M145.50 215.80 L143.15 221.10 L147.85 221.10 Z"/>
<path d="M146.00 218.30 L143.65 223.60 L148.35 223.60 Z"/>
<path d="M152.00 221.30 L149.65 226.60 L154.35 226.60 Z"/>
<path d="M152.50 223.90 L150.15 229.20 L154.85 229.20 Z"/>
<path d="M161.30 226.30 L158.95 231.60 L163.65 231.60 Z"/>
<path d="M161.80 228.90 L159.45 234.20 L164.15 234.20 Z"/>
<path d="M162.60 231.40 L160.25 236.70 L164.95 236.70 Z"/>
<path d="M163.00 233.90 L160.65 239.20 L165.35 239.20 Z"/>
<path d="M164.30 237.70 L161.95 243.00 L166.65 243.00 Z"/>
<path d="M166.30 240.20 L163.95 245.50 L168.65 245.50 Z"/>
<path d="M167.60 241.90 L165.25 247.20 L169.95 247.20 Z"/>
<path d="M176.30 244.40 L173.95 249.70 L178.65 249.70 Z"/>
<path d="M188.00 248.90 L185.65 254.20 L190.35 254.20 Z"/>
<path d="M211.00 254.00 L208.65 259.30 L213.35 259.30 Z"/>
<path d="M239.40 260.30 L237.05 265.60 L241.75 265.60 Z"/>
<path d="M270.20 266.10 L267.85 271.40 L272.55 271.40 Z"/>
</g>
<path fill="none" stroke="#5c5c5c" stroke-width="1" d="M32.00 7.50 H33.50 V10.50 H34.50 V12.50 H35.50 V14.50 H36.50 V16.50 H38.50 V18.50 H39.50 V20.50 H40.50 V22.50 H42.50 V23.50 H45.50 V25.50 H53.50 V29.50 H55.50 V32.50 H55.50 V36.50 H59.50 V40.50 H63.50 V44.50 H67.50 V47.50 H68.50 V50.50 H69.50 V54.50 H70.50 V57.50 H72.50 V61.50 H76.50 V65.50 H78.50 V71.50 H82.50 V74.50 H87.50 V77.50 H89.50 V81.50 H91.50 V83.50 H92.50 V86.50 H93.50 V90.50 H94.50 V93.50 H96.50 V96.50 H97.50 V101.50 H99.50 V104.50 H101.50 V108.50 H110.50 V111.50 H114.50 V115.50 H114.50 V118.50 H115.50 V122.50 H118.50 V124.50 H119.50 V128.50 H121.50 V131.50 H122.50 V134.50 H127.50 V138.50 H130.50 V142.50 H135.50 V146.50 H136.50 V150.50 H136.50 V154.50 H141.50 V158.50 H142.50 V163.50 H152.50 V168.50 H158.50 V173.50 H166.50 V178.50 H178.50 V184.50 H213.50 V193.50 H228.50 V202.50 H248.50 V213.50 H297.50 V230.50 H421.50 V283.50"/>
<g fill="none" stroke="#111" stroke-width="0.9">
<path d="M33.00 7.20 L30.35 12.30 L35.65 12.30 Z"/>
<path d="M34.00 9.20 L31.35 14.30 L36.65 14.30 Z"/>
<path d="M35.00 11.20 L32.35 16.30 L37.65 16.30 Z"/>
<path d="M36.00 13.20 L33.35 18.30 L38.65 18.30 Z"/>
<path d="M38.00 15.20 L35.35 20.30 L40.65 20.30 Z"/>
<path d="M39.00 17.20 L36.35 22.30 L41.65 22.30 Z"/>
<path d="M40.00 19.20 L37.35 24.30 L42.65 24.30 Z"/>
<path d="M42.00 20.20 L39.35 25.30 L44.65 25.30 Z"/>
<path d="M45.00 22.20 L42.35 27.30 L47.65 27.30 Z"/>
<path d="M53.00 26.20 L50.35 31.30 L55.65 31.30 Z"/>
<path d="M55.00 29.20 L52.35 34.30 L57.65 34.30 Z"/>
<path d="M55.00 33.20 L52.35 38.30 L57.65 38.30 Z"/>
<path d="M59.00 37.20 L56.35 42.30 L61.65 42.30 Z"/>
<path d="M63.00 41.20 L60.35 46.30 L65.65 46.30 Z"/>
<path d="M67.00 44.20 L64.35 49.30 L69.65 49.30 Z"/>
<path d="M68.00 47.20 L65.35 52.30 L70.65 52.30 Z"/>
<path d="M69.00 51.20 L66.35 56.30 L71.65 56.30 Z"/>
<path d="M70.00 54.20 L67.35 59.30 L72.65 59.30 Z"/>
<path d="M72.00 58.20 L69.35 63.30 L74.65 63.30 Z"/>
<path d="M76.00 62.20 L73.35 67.30 L78.65 67.30 Z"/>
<path d="M78.00 68.20 L75.35 73.30 L80.65 73.30 Z"/>
<path d="M82.00 71.20 L79.35 76.30 L84.65 76.30 Z"/>
<path d="M87.00 74.20 L84.35 79.30 L89.65 79.30 Z"/>
<path d="M89.00 78.20 L86.35 83.30 L91.65 83.30 Z"/>
<path d="M91.00 80.20 L88.35 85.30 L93.65 85.30 Z"/>
<path d="M92.00 83.20 L89.35 88.30 L94.65 88.30 Z"/>
<path d="M93.00 87.20 L90.35 92.30 L95.65 92.30 Z"/>
<path d="M94.00 90.20 L91.35 95.30 L96.65 95.30 Z"/>
<path d="M96.00 93.20 L93.35 98.30 L98.65 98.30 Z"/>
<path d="M97.00 98.20 L94.35 103.30 L99.65 103.30 Z"/>
<path d="M99.00 101.20 L96.35 106.30 L101.65 106.30 Z"/>
<path d="M101.00 105.20 L98.35 110.30 L103.65 110.30 Z"/>
<path d="M110.00 108.20 L107.35 113.30 L112.65 113.30 Z"/>
<path d="M114.00 112.20 L111.35 117.30 L116.65 117.30 Z"/>
<path d="M114.00 115.20 L111.35 120.30 L116.65 120.30 Z"/>
<path d="M115.00 119.20 L112.35 124.30 L117.65 124.30 Z"/>
<path d="M118.00 121.20 L115.35 126.30 L120.65 126.30 Z"/>
<path d="M119.00 125.20 L116.35 130.30 L121.65 130.30 Z"/>
<path d="M121.00 128.20 L118.35 133.30 L123.65 133.30 Z"/>
<path d="M122.00 131.20 L119.35 136.30 L124.65 136.30 Z"/>
<path d="M127.00 135.20 L124.35 140.30 L129.65 140.30 Z"/>
<path d="M130.00 139.20 L127.35 144.30 L132.65 144.30 Z"/>
<path d="M135.00 143.20 L132.35 148.30 L137.65 148.30 Z"/>
<path d="M136.00 147.20 L133.35 152.30 L138.65 152.30 Z"/>
<path d="M136.00 151.20 L133.35 156.30 L138.65 156.30 Z"/>
<path d="M141.00 155.20 L138.35 160.30 L143.65 160.30 Z"/>
<path d="M142.00 160.20 L139.35 165.30 L144.65 165.30 Z"/>
<path d="M152.00 165.20 L149.35 170.30 L154.65 170.30 Z"/>
<path d="M158.00 170.20 L155.35 175.30 L160.65 175.30 Z"/>
<path d="M166.00 175.20 L163.35 180.30 L168.65 180.30 Z"/>
<path d="M178.00 181.20 L175.35 186.30 L180.65 186.30 Z"/>
<path d="M213.00 190.20 L210.35 195.30 L215.65 195.30 Z"/>
<path d="M228.00 199.20 L225.35 204.30 L230.65 204.30 Z"/>
<path d="M248.00 210.20 L245.35 215.30 L250.65 215.30 Z"/>
<path d="M297.00 227.20 L294.35 232.30 L299.65 232.30 Z"/>
<path d="M421.00 280.20 L418.35 285.30 L423.65 285.30 Z"/>
</g>
<path fill="none" stroke="#5c5c5c" stroke-width="1" d="M32.00 7.50 H45.50 V11.50 H46.50 V14.50 H62.50 V18.50 H70.50 V22.50 H84.50 V27.50 H88.50 V31.50 H91.50 V35.50 H93.50 V39.50 H95.50 V43.50 H97.50 V47.50 H98.50 V50.50 H99.50 V55.50 H106.50 V60.50 H106.50 V66.50 H115.50 V70.50 H115.50 V74.50 H116.50 V80.50 H121.50 V86.50 H172.50 V97.50 H182.50 V109.50 H186.50 V118.50 H252.50 V139.50 H302.50 V160.50 H309.50 V180.50 H416.50 V283.50"/>
<g fill="#000" stroke="#000" stroke-width="0.4">
<path d="M43.00 8.00 L48.20 8.00 L45.60 13.00 Z"/>
<path d="M43.40 11.50 L48.60 11.50 L46.00 16.50 Z"/>
<path d="M60.00 15.50 L65.20 15.50 L62.60 20.50 Z"/>
<path d="M67.90 19.50 L73.10 19.50 L70.50 24.50 Z"/>
<path d="M81.80 23.80 L87.00 23.80 L84.40 28.80 Z"/>
<path d="M86.20 28.20 L91.40 28.20 L88.80 33.20 Z"/>
<path d="M89.30 32.60 L94.50 32.60 L91.90 37.60 Z"/>
<path d="M91.20 36.30 L96.40 36.30 L93.80 41.30 Z"/>
<path d="M93.10 40.10 L98.30 40.10 L95.70 45.10 Z"/>
<path d="M95.00 43.80 L100.20 43.80 L97.60 48.80 Z"/>
<path d="M96.20 47.60 L101.40 47.60 L98.80 52.60 Z"/>
<path d="M97.00 52.30 L102.20 52.30 L99.60 57.30 Z"/>
<path d="M104.20 56.70 L109.40 56.70 L106.80 61.70 Z"/>
<path d="M104.30 62.70 L109.50 62.70 L106.90 67.70 Z"/>
<path d="M112.50 66.70 L117.70 66.70 L115.10 71.70 Z"/>
<path d="M112.90 71.20 L118.10 71.20 L115.50 76.20 Z"/>
<path d="M114.20 77.00 L119.40 77.00 L116.80 82.00 Z"/>
<path d="M119.20 83.10 L124.40 83.10 L121.80 88.10 Z"/>
<path d="M169.70 94.40 L175.70 94.40 L172.70 100.00 Z"/>
<path d="M179.40 105.70 L185.40 105.70 L182.40 111.30 Z"/>
<path d="M183.00 115.20 L189.00 115.20 L186.00 120.80 Z"/>
<path d="M249.60 136.00 L255.60 136.00 L252.60 141.60 Z"/>
<path d="M299.00 156.90 L305.00 156.90 L302.00 162.50 Z"/>
<path d="M306.60 177.50 L312.60 177.50 L309.60 183.10 Z"/>
<path d="M413.60 279.70 L419.60 279.70 L416.60 285.30 Z"/>
</g>
<g font-family="Liberation Sans, sans-serif" font-size="7.2" fill="#222" stroke="#222" stroke-width="0.2" text-anchor="end">
<text x="21" y="10.5">1</text>
<text x="21" y="65.5">.8</text>
<text x="21" y="120.5">.6</text>
<text x="21" y="175.5">.4</text>
<text x="21" y="230.5">.2</text>
<text x="21" y="285.5">0</text>
</g>
<g font-family="Liberation Sans, sans-serif" font-size="6.8" fill="#222" stroke="#222" stroke-width="0.15" text-anchor="middle">
<text x="32.0" y="300.8">0</text>
<text x="87.9" y="300.8">50</text>
<text x="143.8" y="300.8">100</text>
<text x="199.6" y="300.8">150</text>
<text x="255.5" y="300.8">200</text>
<text x="311.4" y="300.8">250</text>
<text x="367.2" y="300.8">300</text>
<text x="423.1" y="300.8">350</text>
<text x="479.0" y="300.8">400</text>
</g>
<text font-family="Liberation Sans, sans-serif" font-size="9" font-weight="bold" fill="#111" x="213.5" y="316.2">Months</text>
<text font-family="Liberation Sans, sans-serif" font-size="9.2" font-weight="bold" fill="#111" transform="translate(8.6,163.3) rotate(-90)">Survival</text>
<text font-family="Liberation Sans, sans-serif" font-size="8.9" fill="#111" stroke="#111" stroke-width="0.15" x="465.5" y="178.8">P&lt;0.0001</text>
<g font-family="Liberation Sans, sans-serif" font-size="7.55" fill="#111" stroke="#111" stroke-width="0.24">
<path d="M350.3 7.4 L354.7 7.4 L352.5 11.7 Z" fill="#111"/>
<text x="356.5" y="12.4">DIPSS-plus low risk; <tspan font-style="italic">n</tspan>=84</text>
<text x="347.2" y="21.2">median survival <tspan font-size="9.6" dx="-0.2" dy="0.65">~</tspan><tspan dx="-0.3" dy="-0.65"> 200 months; 2-year mortality 3%</tspan></text>
<path d="M349.1 35.3 L351.2 39.4 L347.0 39.4 Z" fill="none" stroke="#555" stroke-width="0.8"/>
<text x="357.4" y="39.4">DIPSS-plus intermediate-1 risk; <tspan font-style="italic">n</tspan>=128</text>
<text x="347.2" y="48.1">median survival <tspan font-size="9.6" dx="-0.2" dy="0.65">~</tspan><tspan dx="-0.3" dy="-0.65"> 94 months; 2-year mortality 11%</tspan></text>
<path d="M350.3 62.5 L352.8 67 L347.8 67 Z" fill="#111"/>
<text x="357" y="67.3">DIPSS-plus intermediate-2 risk; <tspan font-style="italic">n</tspan>=322</text>
<text x="347.2" y="76">median survival <tspan font-size="9.6" dx="-0.2" dy="0.65">~</tspan><tspan dx="-0.3" dy="-0.65"> 44 months; 2-year mortality 26%</tspan></text>
<circle cx="349" cy="92.8" r="1.5" fill="none" stroke="#333" stroke-width="0.6"/>
<text x="358" y="95">DIPSS-plus high risk; <tspan font-style="italic">n</tspan>=298</text>
<text x="347.2" y="103.8">median survival <tspan font-size="9.6" dx="-0.2" dy="0.65">~</tspan><tspan dx="-0.3" dy="-0.65"> 23 months; 2-year mortality 53%</tspan></text>
<circle cx="347.9" cy="118.6" r="2.3" fill="#c23a4c" stroke="#6e1422" stroke-width="0.9"/>
<text x="358" y="122.5">Very high risk category;* <tspan font-style="italic">n</tspan>=52</text>
<text x="347.2" y="131.2">median survival <tspan font-size="9.6" dx="-0.2" dy="0.65">~</tspan><tspan dx="-0.3" dy="-0.65"> 9 months; 2-year mortality 82%</tspan></text>
</g>
</g>
</svg>
</body></html>
